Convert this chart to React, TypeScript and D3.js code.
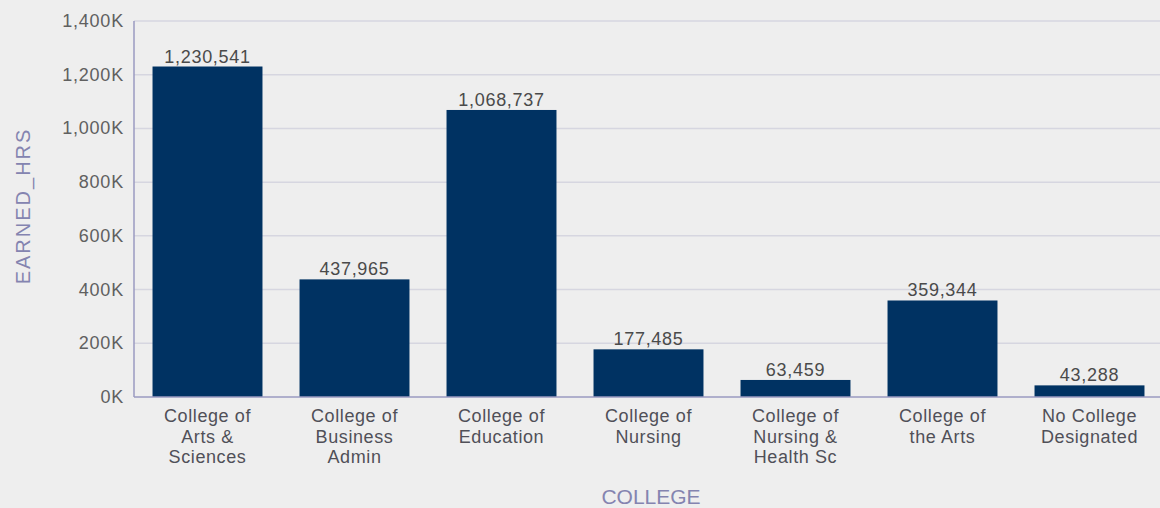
import React from "react";
import * as d3 from "d3";

const categories: string[][] = [
  ["College of", "Arts &", "Sciences"],
  ["College of", "Business", "Admin"],
  ["College of", "Education"],
  ["College of", "Nursing"],
  ["College of", "Nursing &", "Health Sc"],
  ["College of", "the Arts"],
  ["No College", "Designated"],
];
const earnedHrs: number[] = [1230541, 437965, 1068737, 177485, 63459, 359344, 43288];
const yTicks: number[] = [0, 200000, 400000, 600000, 800000, 1000000, 1200000, 1400000];

const W = 1160;
const H = 508;
const left = 134;
const right = 1163;
const top = 21;
const bottom = 397;

const FONT = "'Liberation Sans', Arial, sans-serif";

export default function App() {
  const keys = categories.map((c) => c.join(" "));
  const x = d3.scaleBand<string>().domain(keys).range([left, right]).paddingInner(0.252).paddingOuter(0.126);
  const y = d3.scaleLinear().domain([0, 1400000]).range([bottom, top]);
  const fmt = d3.format(",");
  const tickFmt = (v: number) => d3.format(",")(v / 1000) + "K";

  return (
    <svg
      width={W}
      height={H}
      style={{ position: "absolute", left: 0, top: 0, background: "#eeeeee" }}
    >
      <rect x={0} y={0} width={W} height={H} fill="#eeeeee" />
      {yTicks.map((t) => (
        <g key={t}>
          {t > 0 && (
            <line x1={left} x2={W} y1={y(t)} y2={y(t)} stroke="#d6d6e0" strokeWidth={1.5} />
          )}
          <text
            x={124}
            y={y(t) + 6}
            textAnchor="end"
            fontFamily={FONT}
            fontSize={18}
            letterSpacing={0.8}
            fill="#606060"
          >
            {tickFmt(t)}
          </text>
        </g>
      ))}
      {earnedHrs.map((v, i) => (
        <g key={keys[i]}>
          <rect
            x={x(keys[i])}
            y={y(v)}
            width={x.bandwidth()}
            height={bottom - y(v)}
            fill="#003262"
          />
          <text
            x={(x(keys[i]) as number) + x.bandwidth() / 2}
            y={y(v) - 4}
            textAnchor="middle"
            fontFamily={FONT}
            fontSize={18}
            letterSpacing={0.7}
            fill="#4a4a4a"
          >
            {fmt(v)}
          </text>
          {categories[i].map((line, j) => (
            <text
              key={j}
              x={(x(keys[i]) as number) + x.bandwidth() / 2}
              y={422 + j * 20.5}
              textAnchor="middle"
              fontFamily={FONT}
              fontSize={18}
              letterSpacing={0.6}
              fill="#505058"
            >
              {line}
            </text>
          ))}
        </g>
      ))}
      <line x1={left} x2={left} y1={top} y2={bottom} stroke="#9a9ac0" strokeWidth={1.5} />
      <line x1={left} x2={W} y1={bottom} y2={bottom} stroke="#9a9ac0" strokeWidth={1.5} />
      <text
        transform={`translate(30,206) rotate(-90)`}
        textAnchor="middle"
        fontFamily={FONT}
        fontSize={20}
        letterSpacing={2}
        fill="#8484b0"
      >
        EARNED_HRS
      </text>
      <text
        x={651}
        y={504}
        textAnchor="middle"
        fontFamily={FONT}
        fontSize={21}
        fill="#8484b0"
      >
        COLLEGE
      </text>
    </svg>
  );
}
